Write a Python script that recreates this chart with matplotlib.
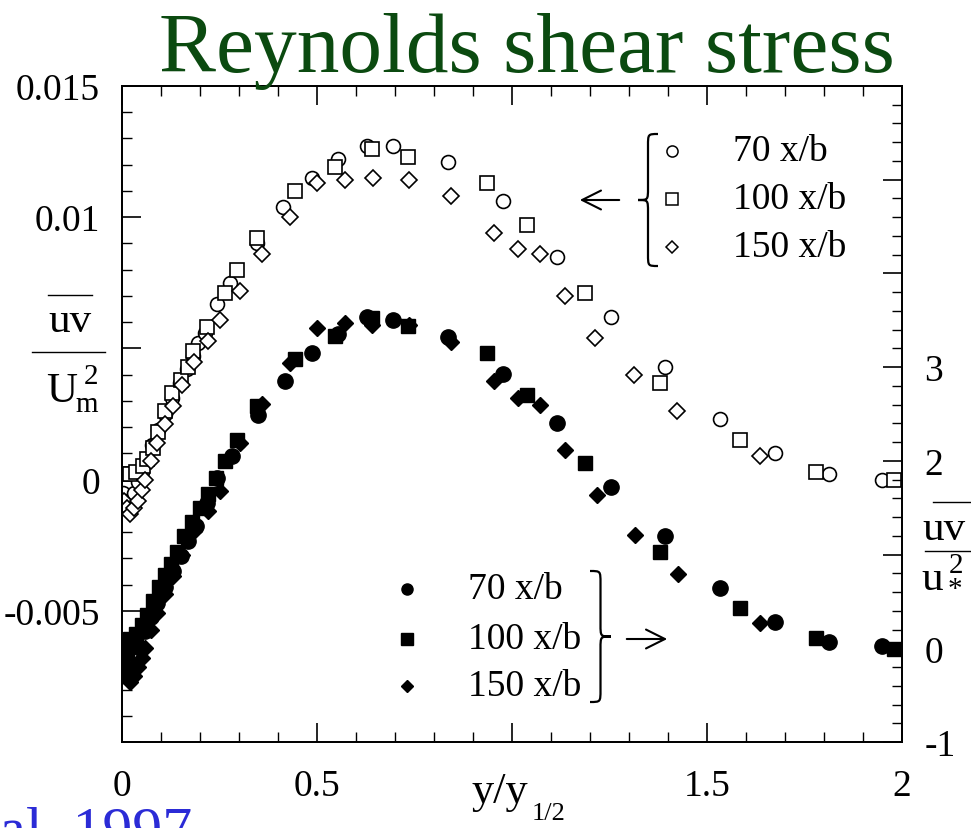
import matplotlib
matplotlib.use('Agg')
import matplotlib.pyplot as plt
from matplotlib.path import Path
from matplotlib.patches import PathPatch, FancyArrowPatch
from matplotlib.ticker import MultipleLocator, FixedLocator, FixedFormatter

# ---------------- data (left axis: open symbols, uv/Um^2) ----------------
open70_x = [0.003, 0.008, 0.015, 0.022, 0.030, 0.040, 0.050, 0.064, 0.077, 0.092, 0.110, 0.128,
            0.149, 0.167, 0.182, 0.195, 0.213, 0.244, 0.277, 0.346, 0.413, 0.487, 0.554, 0.628,
            0.695, 0.836, 0.977, 1.115, 1.254, 1.392, 1.533, 1.674, 1.813, 1.949]
open70_y = [-0.0005, -0.0008, -0.0009, -0.0008, -0.0005, -0.0001, 0.0003, 0.0008, 0.0013, 0.0019,
            0.0025, 0.0031, 0.0037, 0.0042, 0.0047, 0.0052, 0.0056, 0.0067, 0.0075, 0.0090, 0.0104,
            0.0115, 0.0122, 0.0127, 0.0127, 0.0121, 0.0106, 0.0085, 0.0062, 0.0043, 0.0023, 0.0010,
            0.0002, 0.0000]
open100_x = [0.005, 0.020, 0.035, 0.054, 0.065, 0.079, 0.092, 0.110, 0.128, 0.150, 0.169, 0.182,
             0.218, 0.264, 0.295, 0.346, 0.444, 0.546, 0.641, 0.733, 0.936, 1.038, 1.187, 1.380,
             1.585, 1.780, 1.980]
open100_y = [0.0002, 0.0002, 0.0003, 0.0005, 0.0008, 0.0012, 0.0018, 0.0026, 0.0033, 0.0038, 0.0043,
             0.0049, 0.0058, 0.0071, 0.0080, 0.0092, 0.0110, 0.0119, 0.0126, 0.0123, 0.0113, 0.0097,
             0.0071, 0.0037, 0.0015, 0.0003, 0.0000]
open150_x = [0.005, 0.012, 0.020, 0.030, 0.040, 0.050, 0.060, 0.075, 0.090, 0.110, 0.130, 0.155,
             0.185, 0.221, 0.251, 0.303, 0.359, 0.431, 0.500, 0.572, 0.644, 0.735, 0.843, 0.954,
             1.015, 1.072, 1.136, 1.213, 1.313, 1.423, 1.636]
open150_y = [-0.0008, -0.0011, -0.0013, -0.0011, -0.0008, -0.0004, 0.0000, 0.0007, 0.0014, 0.0021,
             0.0028, 0.0036, 0.0045, 0.0053, 0.0061, 0.0072, 0.0086, 0.0100, 0.0113, 0.0114, 0.0115,
             0.0114, 0.0108, 0.0094, 0.0088, 0.0086, 0.0070, 0.0054, 0.0040, 0.0026, 0.0009]

# ---------------- data (right axis: filled symbols, uv/u*^2) ----------------
fill70_x = [0.004, 0.010, 0.020, 0.030, 0.045, 0.060, 0.075, 0.090, 0.110, 0.130, 0.150, 0.170,
            0.190, 0.217, 0.244, 0.282, 0.349, 0.418, 0.487, 0.554, 0.628, 0.695, 0.836, 0.977,
            1.115, 1.254, 1.392, 1.533, 1.674, 1.813, 1.949]
fill70_y = [-0.20, -0.30, -0.32, -0.20, 0.00, 0.18, 0.33, 0.48, 0.65, 0.82, 0.98, 1.15, 1.30, 1.55,
            1.82, 2.05, 2.49, 2.85, 3.15, 3.35, 3.54, 3.50, 3.32, 2.93, 2.40, 1.72, 1.20, 0.64,
            0.28, 0.07, 0.02]
fill100_x = [0.004, 0.012, 0.020, 0.035, 0.050, 0.065, 0.080, 0.095, 0.110, 0.125, 0.140, 0.160,
             0.180, 0.200, 0.220, 0.240, 0.264, 0.295, 0.346, 0.444, 0.546, 0.641, 0.733, 0.936,
             1.038, 1.187, 1.380, 1.585, 1.780, 1.980]
fill100_y = [0.05, -0.05, 0.10, 0.15, 0.25, 0.35, 0.50, 0.65, 0.78, 0.90, 1.03, 1.20, 1.35, 1.50,
             1.65, 1.82, 2.00, 2.22, 2.59, 3.09, 3.33, 3.52, 3.44, 3.15, 2.70, 1.98, 1.03, 0.43,
             0.11, -0.01]
fill150_x = [0.004, 0.012, 0.020, 0.030, 0.040, 0.050, 0.060, 0.075, 0.090, 0.110, 0.130, 0.155,
             0.185, 0.221, 0.251, 0.303, 0.359, 0.431, 0.500, 0.572, 0.641, 0.735, 0.843, 0.954,
             1.015, 1.072, 1.136, 1.218, 1.315, 1.426, 1.636]
fill150_y = [-0.22, -0.30, -0.36, -0.30, -0.20, -0.10, 0.00, 0.20, 0.38, 0.58, 0.77, 1.00, 1.25,
             1.46, 1.68, 2.19, 2.61, 3.04, 3.42, 3.47, 3.45, 3.45, 3.27, 2.85, 2.67, 2.60, 2.12,
             1.64, 1.21, 0.79, 0.27]

legend_labels = ['70 x/b', '100 x/b', '150 x/b']
left_ticks = [-0.01, -0.005, 0, 0.005, 0.01, 0.015]
left_ticklabels = ['', '-0.005', '0', '', '0.01', '0.015']
right_ticks = [-1, 0, 1, 2, 3, 4, 5, 6]
right_ticklabels = ['-1', '0', '', '2', '3', '', '', '']
x_ticks = [0, 0.5, 1, 1.5, 2]
x_ticklabels = ['0', '0.5', '', '1.5', '2']

# ---------------- figure ----------------
plt.rcParams['font.family'] = ['Liberation Serif', 'DejaVu Serif']
W, H = 971, 829
fig = plt.figure(figsize=(W / 100, H / 100), dpi=100)
ax = fig.add_axes([122 / W, 1 - 743 / H, 780 / W, 656 / H])
ax2 = ax.twinx()

ax.set_xlim(0, 2)
ax.set_ylim(-0.01, 0.015)
ax2.set_ylim(-1, 6)

fs = 27
ax.xaxis.set_major_locator(FixedLocator(x_ticks))
ax.xaxis.set_major_formatter(FixedFormatter(x_ticklabels))
ax.xaxis.set_minor_locator(MultipleLocator(0.1))
ax.yaxis.set_major_locator(FixedLocator(left_ticks))
ax.yaxis.set_major_formatter(FixedFormatter(left_ticklabels))
ax.yaxis.set_minor_locator(MultipleLocator(0.001))
ax2.yaxis.set_major_locator(FixedLocator(right_ticks))
ax2.yaxis.set_major_formatter(FixedFormatter(right_ticklabels))
ax2.yaxis.set_minor_locator(MultipleLocator(0.2))

ax.tick_params(axis='both', which='major', direction='in', length=14, width=1.2, labelsize=fs,
               top=True, right=False)
ax.tick_params(axis='both', which='minor', direction='in', length=7, width=1.0, top=True, right=False)
ax.tick_params(axis='x', which='major', pad=19)
ax.tick_params(axis='y', which='major', pad=16)
ax2.tick_params(axis='y', which='major', direction='in', length=14, width=1.2, labelsize=fs, pad=16)
ax2.tick_params(axis='y', which='minor', direction='in', length=7, width=1.0)
for lab in ax2.get_yticklabels():
    lab.set_verticalalignment('center_baseline')
for a in (ax, ax2):
    for s in a.spines.values():
        s.set_linewidth(1.3)

ax.plot(open70_x, open70_y, linestyle='none', marker='o', color='black', markersize=10,
        markerfacecolor='white', markeredgewidth=1.2)
ax.plot(open100_x, open100_y, linestyle='none', marker='s', color='black', markersize=10,
        markerfacecolor='white', markeredgewidth=1.2)
ax.plot(open150_x, open150_y, linestyle='none', marker='D', color='black', markersize=8,
        markerfacecolor='white', markeredgewidth=1.2)
ax2.plot(fill70_x, fill70_y, linestyle='none', marker='o', color='black', markersize=11)
ax2.plot(fill100_x, fill100_y, linestyle='none', marker='s', color='black', markersize=10.5)
ax2.plot(fill150_x, fill150_y, linestyle='none', marker='D', color='black', markersize=8.5)

# ---------------- texts ----------------
def fy(y):
    return H - y

fig.text(527 / W, fy(72) / H, 'Reynolds shear stress', color='#0b4a10', fontsize=61.5,
         ha='center', va='baseline')
fig.text(192 / W, fy(848) / H, 'et al. 1997', color='#2b2bd6', fontsize=43, ha='right', va='baseline')

# x label
fig.text(500 / W, fy(803) / H, 'y/y', fontsize=32, ha='center', va='baseline')
fig.text(532 / W, fy(820) / H, '1/2', fontsize=19, ha='left', va='baseline')

# left y label
fig.text(70 / W, fy(322) / H, 'uv', fontsize=31, ha='center', va='center')
fig.add_artist(plt.Line2D([48 / W, 92 / W], [fy(296) / H] * 2, color='black', lw=1.0))
fig.add_artist(plt.Line2D([32 / W, 105 / W], [fy(353) / H] * 2, color='black', lw=1.0))
fig.text(62 / W, fy(402) / H, 'U', fontsize=31, ha='center', va='baseline')
fig.text(91 / W, fy(384) / H, '2', fontsize=21, ha='center', va='baseline')
fig.text(87 / W, fy(412) / H, 'm', fontsize=21, ha='center', va='baseline')

# right y label
fig.text(944 / W, fy(530) / H, 'uv', fontsize=31, ha='center', va='center')
fig.add_artist(plt.Line2D([933 / W, 970 / W], [fy(503) / H] * 2, color='black', lw=1.0))
fig.add_artist(plt.Line2D([925 / W, 971 / W], [fy(552) / H] * 2, color='black', lw=1.0))
fig.text(932 / W, fy(590) / H, 'u', fontsize=31, ha='center', va='baseline')
fig.text(956 / W, fy(573) / H, '2', fontsize=21, ha='center', va='baseline')
fig.text(955 / W, fy(597) / H, '*', fontsize=21, ha='center', va='baseline')

# ---------------- legends ----------------
def brace(x_tip, x_end, y_top, y_bot, r=12, lw=1.6):
    xm = (x_tip + x_end) / 2
    ym = (y_top + y_bot) / 2
    pts = [(x_end, y_top), (xm, y_top), (xm, y_top), (xm, y_top + r),
           (xm, ym - r),
           (xm, ym), (xm, ym), (x_tip, ym),
           (xm, ym), (xm, ym), (xm, ym + r),
           (xm, y_bot - r),
           (xm, y_bot), (xm, y_bot), (x_end, y_bot)]
    codes = [Path.MOVETO, Path.CURVE4, Path.CURVE4, Path.CURVE4,
             Path.LINETO,
             Path.CURVE4, Path.CURVE4, Path.CURVE4,
             Path.CURVE4, Path.CURVE4, Path.CURVE4,
             Path.LINETO,
             Path.CURVE4, Path.CURVE4, Path.CURVE4]
    pts = [(px / W, fy(py) / H) for px, py in pts]
    fig.add_artist(PathPatch(Path(pts, codes), transform=fig.transFigure, fill=False,
                             lw=lw, edgecolor='black'))

def arrow(x0, x1, y):
    fig.add_artist(FancyArrowPatch((x0 / W, fy(y) / H), (x1 / W, fy(y) / H),
                                   transform=fig.transFigure, arrowstyle='->',
                                   mutation_scale=34, lw=1.5, color='black'))

leg_markers = ['o', 's', 'D']
leg_ms = [8, 8, 6]
up_y = [152, 200, 248]
for m, s, yy, lab in zip(leg_markers, leg_ms, up_y, legend_labels):
    fig.add_artist(plt.Line2D([672 / W], [fy(yy) / H], marker=m, markersize=s, color='black',
                              markerfacecolor='white', markeredgewidth=1.1, linestyle='none'))
    fig.text(733 / W, fy(yy) / H, lab, fontsize=fs, ha='left', va='center')
brace(638, 658, 135, 267)
arrow(622, 577, 201)

lo_y = [590, 640, 687]
for m, s, yy, lab in zip(leg_markers, leg_ms, lo_y, legend_labels):
    fig.add_artist(plt.Line2D([407 / W], [fy(yy) / H], marker=m, markersize=s, color='black',
                              linestyle='none'))
    fig.text(468 / W, fy(yy) / H, lab, fontsize=fs, ha='left', va='center')
brace(611, 590, 572, 703)
arrow(624, 670, 640)

fig.savefig('out.png', dpi=100)
